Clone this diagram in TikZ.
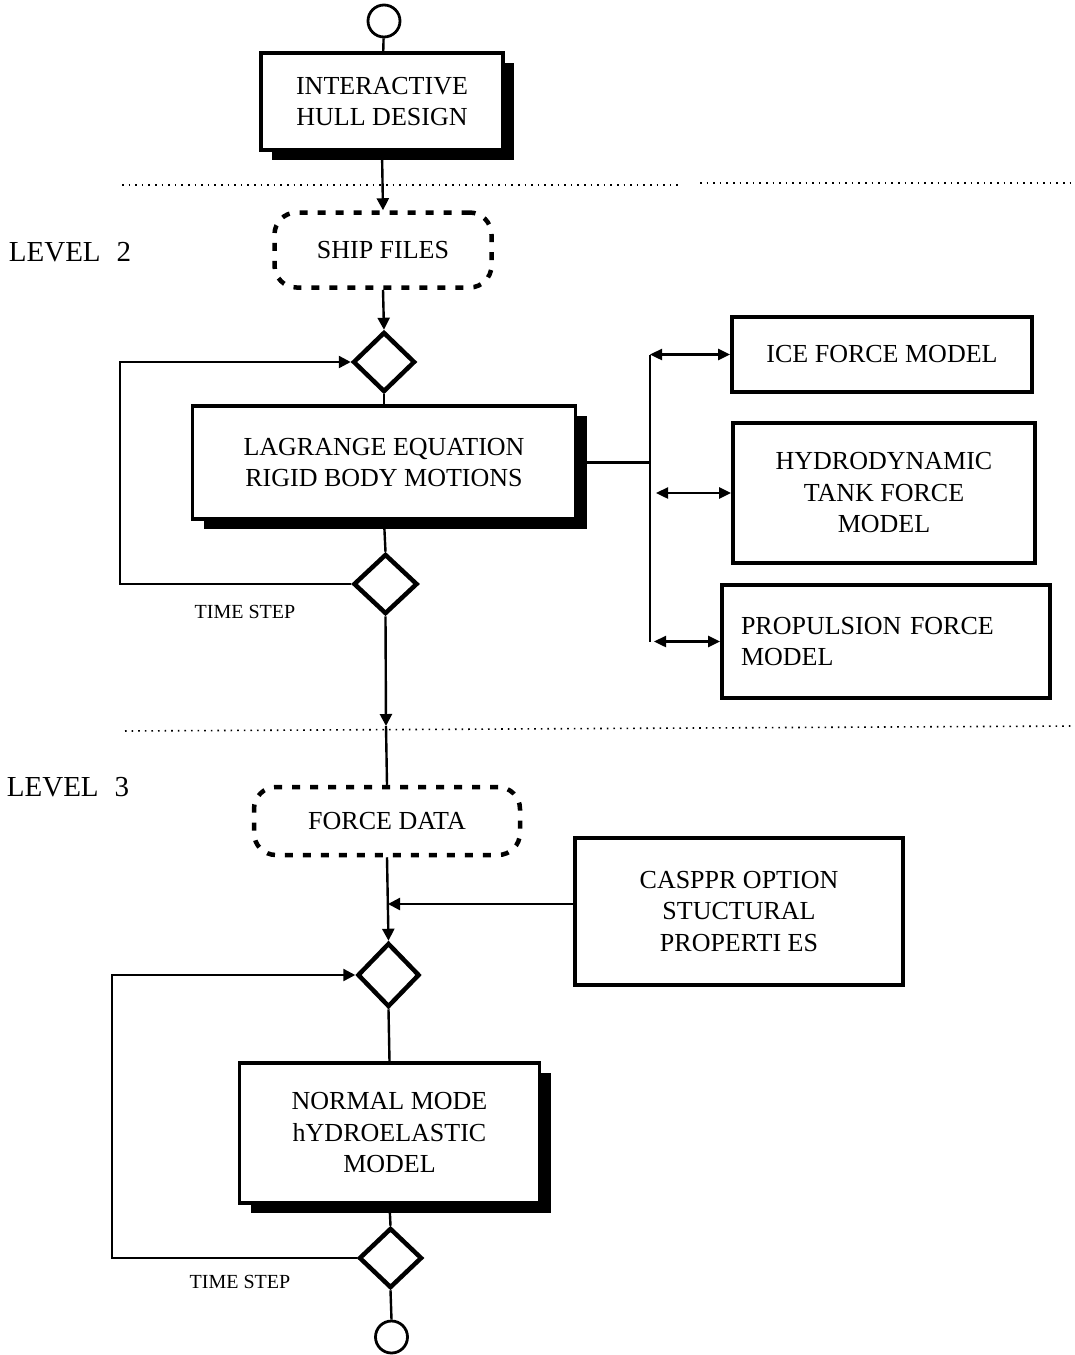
\documentclass[tikz,border=0pt]{standalone}
\usepackage{fontspec}
\setmainfont{Liberation Serif}
\usetikzlibrary{shapes.geometric,arrows.meta,shadows}

\begin{document}
\begin{tikzpicture}[x=1pt,y=-1pt,
  conn/.style={line width=2.4pt},
  arr/.style={conn,-{Triangle[length=12pt,width=12pt]}},
  darr/.style={conn,{Triangle[length=12pt,width=11pt]}-{Triangle[length=12pt,width=11pt]}},
  boxtext/.style={font=\fontsize{26}{31.5}\selectfont, align=center, inner sep=0pt},
  shbox/.style={boxtext, draw, line width=3.2pt, fill=white,
    drop shadow={shadow xshift=11pt, shadow yshift=-10pt, fill=black, opacity=1}},
  plainbox/.style={boxtext, draw, line width=3.8pt, fill=white},
  filebox/.style={boxtext, draw, line width=4.5pt, rounded corners=22pt,
    dash pattern=on 8pt off 10pt},
  decision/.style={diamond, draw, line width=4.5pt, inner sep=0pt, fill=white},
  terminal/.style={circle, draw, line width=2.8pt, minimum size=32pt, inner sep=0pt},
  levelsep/.style={line width=1.6pt, dash pattern=on 1.6pt off 5pt},
  levellabel/.style={font=\fontsize{29}{34}\selectfont, inner sep=0pt},
  steplabel/.style={font=\fontsize{20}{24}\selectfont, inner sep=0pt}]

\useasboundingbox (0,0) rectangle (1075,1355);

% level separators
\draw[levelsep] (122,185) -- (680,185);
\draw[levelsep] (700,183) -- (1070,183);
\draw[levelsep] (125,731) -- (1075,726);

% level labels
\node[levellabel] (lev2) at (70,252) {LEVEL\hspace{0.55em}2};
\node[levellabel] (lev3) at (68,787) {LEVEL\hspace{0.55em}3};

% main column
\node[terminal] (ctop) at (384,21) {};
\node[shbox, minimum width=242pt, minimum height=97pt] (hull) at (382,101.5)
  {INTERACTIVE\\HULL DESIGN};
\node[filebox, minimum width=217pt, minimum height=75pt] (ship) at (383,250) {SHIP FILES};
\node[decision, minimum width=62pt, minimum height=60pt] (d1) at (384,362) {};
\node[shbox, minimum width=383pt, minimum height=113pt] (lag) at (384,462.5)
  {LAGRANGE EQUATION\\RIGID BODY MOTIONS};
\node[decision, minimum width=64pt, minimum height=60pt] (d2) at (385.5,584) {};

% force models
\node[plainbox, minimum width=300pt, minimum height=75pt] (ice) at (882,354.5) {ICE FORCE MODEL};
\node[plainbox, minimum width=302pt, minimum height=140pt] (hydro) at (884,493)
  {HYDRODYNAMIC\\TANK FORCE\\MODEL};
\node[plainbox, minimum width=328pt, minimum height=113pt, text width=290pt, align=left]
  (prop) at (886,641.5) {PROPULSION FORCE\\MODEL};

% level 3
\node[filebox, minimum width=266pt, minimum height=68pt] (force) at (387,821) {FORCE DATA};
\node[plainbox, line width=3.2pt, minimum width=328pt, minimum height=147pt] (casppr) at (739,911.5)
  {CASPPR OPTION\\STUCTURAL\\PROPERTI ES};
\node[decision, minimum width=62pt, minimum height=64pt] (d3) at (388.5,975) {};
\node[shbox, minimum width=300pt, minimum height=140pt] (normal) at (389.5,1133)
  {NORMAL MODE\\hYDROELASTIC\\MODEL};
\node[decision, minimum width=63pt, minimum height=60pt] (d4) at (390.5,1258) {};
\node[terminal] (cbot) at (391.5,1337) {};

% time step labels
\node[steplabel] (ts1) at (245,612) {TIME STEP};
\node[steplabel] (ts2) at (240,1282) {TIME STEP};

% helper coordinates
\coordinate (sep2) at (386,726);
\coordinate (feed) at (388,904);
\coordinate (loopA) at (120,0);
\coordinate (loopB) at (112,0);
\coordinate (bus) at (650,0);
\coordinate (hydtip) at (656,0);
\coordinate (proptip) at (654,0);

% main flow
\draw[conn] (ctop) -- (hull);
\draw[arr] (hull.south) -- (ship.north);
\draw[arr] (ship.south) -- (d1.north);
\draw[conn] (d1.south) -- (lag.north);
\draw[conn] (lag.south) -- (d2.north);
\draw[arr] (d2.south) -- (sep2);
\draw[conn] (sep2) -- (force.north);
\draw[arr] (force.south) -- (d3.north);
\draw[arr] (casppr.west |- feed) -- (feed);
\draw[conn] (d3.south) -- (normal.north);
\draw[conn] (normal.south) -- (d4.north);
\draw[conn] (d4.south) -- (cbot.north);

% time step loops
\draw[arr] (d2.west) -- (d2.west -| loopA) -- (d1.west -| loopA) -- (d1.west);
\draw[arr] (d4.west) -- (d4.west -| loopB) -- (d3.west -| loopB) -- (d3.west);

% force model bus
\draw[conn] (lag.east) -- (lag.east -| bus);
\draw[conn] (ice.west -| bus) -- (prop.west -| bus);
\draw[darr] (ice.west -| bus) -- (ice.west);
\draw[darr] (hydro.west -| hydtip) -- (hydro.west);
\draw[darr] (prop.west -| proptip) -- (prop.west);

\end{tikzpicture}
\end{document}
